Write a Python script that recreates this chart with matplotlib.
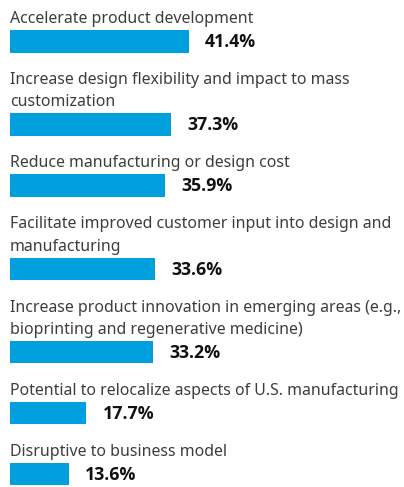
import matplotlib
matplotlib.use("Agg")
import matplotlib.pyplot as plt

categories = [
    "Accelerate product development",
    "Increase design flexibility and impact to mass\ncustomization",
    "Reduce manufacturing or design cost",
    "Facilitate improved customer input into design and\nmanufacturing",
    "Increase product innovation in emerging areas (e.g.,\nbioprinting and regenerative medicine)",
    "Potential to relocalize aspects of U.S. manufacturing",
    "Disruptive to business model",
]
values = [41.4, 37.3, 35.9, 33.6, 33.2, 17.7, 13.6]
value_labels = ["41.4%", "37.3%", "35.9%", "33.6%", "33.2%", "17.7%", "13.6%"]

W, H = 404, 487
DPI = 100
fig = plt.figure(figsize=(W / DPI, H / DPI), dpi=DPI)
ax = fig.add_axes([0, 0, 1, 1])
ax.axis("off")

px_per_unit = 4.32
left_px = 10
ax.set_xlim(-left_px / px_per_unit, (W - left_px) / px_per_unit)
ax.set_ylim(H, 0)

bar_color = "#00A0DF"
label_color = "#3d3d3d"
fs_label = 11.45
fs_value = 12.8

gap = 31.5
line_h = 22.3
base_to_bar = 7.0
bar_h = 22.5

baseline = 23.0
for cat, val, vl in zip(categories, values, value_labels):
    lines = cat.split("\n")
    for i, ln in enumerate(lines):
        ax.text(0, baseline + i * line_h, ln, ha="left", va="baseline",
                fontsize=fs_label, color=label_color, family=["Noto Sans", "DejaVu Sans"])
    last_base = baseline + (len(lines) - 1) * line_h
    bar_top = last_base + base_to_bar
    center = bar_top + bar_h / 2
    ax.barh(center, val, height=bar_h, left=0, color=bar_color, linewidth=0)
    ax.annotate(vl, xy=(val, center), xytext=(11.5, -0.5), textcoords="offset points",
                ha="left", va="center", fontsize=fs_value, fontweight="bold",
                color="#111111", family=["Open Sans", "DejaVu Sans"])
    baseline = bar_top + bar_h + gap

fig.savefig("out.png", dpi=DPI)
